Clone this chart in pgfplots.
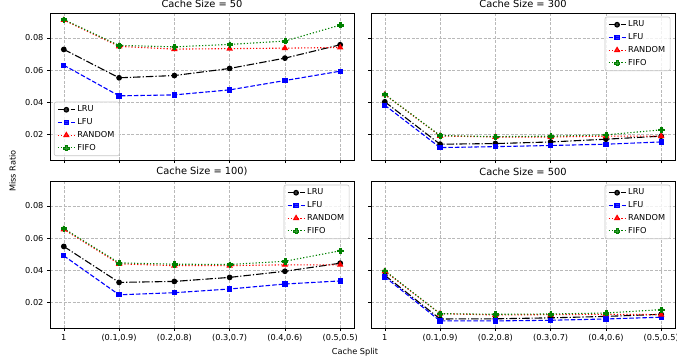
\documentclass[border=0pt]{standalone}
\usepackage{pgfplots}
\pgfplotsset{compat=1.18}
\usepackage{pgfplotstable}
\usepackage{fontspec}
\setmainfont{DejaVu Sans}
\newcommand{\tk}{\fontsize{8.2}{9.8}\selectfont}
\newcommand{\ttl}{\fontsize{9.84}{11.8}\selectfont}
\definecolor{mplgreen}{rgb}{0,0.5,0}

\pgfdeclareplotmark{Pfill}{%
  \pgfpathmoveto{\pgfpoint{-0.333\pgfplotmarksize}{\pgfplotmarksize}}%
  \pgfpathlineto{\pgfpoint{0.333\pgfplotmarksize}{\pgfplotmarksize}}%
  \pgfpathlineto{\pgfpoint{0.333\pgfplotmarksize}{0.333\pgfplotmarksize}}%
  \pgfpathlineto{\pgfpoint{\pgfplotmarksize}{0.333\pgfplotmarksize}}%
  \pgfpathlineto{\pgfpoint{\pgfplotmarksize}{-0.333\pgfplotmarksize}}%
  \pgfpathlineto{\pgfpoint{0.333\pgfplotmarksize}{-0.333\pgfplotmarksize}}%
  \pgfpathlineto{\pgfpoint{0.333\pgfplotmarksize}{-\pgfplotmarksize}}%
  \pgfpathlineto{\pgfpoint{-0.333\pgfplotmarksize}{-\pgfplotmarksize}}%
  \pgfpathlineto{\pgfpoint{-0.333\pgfplotmarksize}{-0.333\pgfplotmarksize}}%
  \pgfpathlineto{\pgfpoint{-\pgfplotmarksize}{-0.333\pgfplotmarksize}}%
  \pgfpathlineto{\pgfpoint{-\pgfplotmarksize}{0.333\pgfplotmarksize}}%
  \pgfpathlineto{\pgfpoint{-0.333\pgfplotmarksize}{0.333\pgfplotmarksize}}%
  \pgfpathclose
  \pgfusepathqfillstroke
}

\pgfplotstableread{
x LRU LFU RAND FIFO
0 0.0728 0.0630 0.0910 0.0913
1 0.0552 0.0440 0.0747 0.0753
2 0.0566 0.0446 0.0730 0.0744
3 0.0610 0.0477 0.0733 0.0759
4 0.0674 0.0535 0.0736 0.0780
5 0.0757 0.0593 0.0740 0.0879
}\tfifty
\pgfplotstableread{
x LRU LFU RAND FIFO
0 0.0403 0.0382 0.0448 0.0449
1 0.0140 0.0119 0.0191 0.0194
2 0.0144 0.0125 0.0185 0.0187
3 0.0154 0.0132 0.0185 0.0190
4 0.0171 0.0140 0.0190 0.0198
5 0.0190 0.0154 0.0190 0.0229
}\tthree
\pgfplotstableread{
x LRU LFU RAND FIFO
0 0.0548 0.0490 0.0654 0.0659
1 0.0325 0.0248 0.0440 0.0446
2 0.0331 0.0261 0.0429 0.0438
3 0.0356 0.0284 0.0429 0.0436
4 0.0394 0.0315 0.0434 0.0456
5 0.0444 0.0334 0.0434 0.0521
}\thundred
\pgfplotstableread{
x LRU LFU RAND FIFO
0 0.0369 0.0359 0.0394 0.0398
1 0.0098 0.0086 0.0131 0.0131
2 0.0099 0.0086 0.0123 0.0127
3 0.0105 0.0090 0.0125 0.0129
4 0.0114 0.0098 0.0127 0.0135
5 0.0127 0.0109 0.0125 0.0156
}\tfive

\pgfplotsset{
  panel/.style={
    scale only axis, width=304pt, height=147pt, anchor=south west,
    xmin=-0.25, xmax=5.25, ymin=0.0042, ymax=0.0954,
    xtick={0,1,2,3,4,5},
    ytick={0.02,0.04,0.06,0.08},
    scaled y ticks=false,
    xtick pos=lower, ytick pos=left, tick align=outside,
    major tick length=3pt,
    tick style={black, line width=0.6pt},
    axis line style={black, line width=0.8pt},
    grid=major,
    major grid style={gray!55, dash pattern=on 3pt off 1.5pt, line width=0.6pt},
    tick label style={font=\tk},
    /pgf/number format/assume math mode=true,
    title style={font=\ttl, yshift=-4.5pt},
    legend style={font=\tk, draw=black!22, line width=0.6pt, rounded corners=2pt, fill=white, fill opacity=0.8, text opacity=1, draw opacity=1, inner xsep=3pt, inner ysep=2pt, row sep=1.2pt},
    legend cell align=left,
    every axis plot/.append style={line width=1.1pt},
  },
  leftcol/.style={yticklabels={0.02,0.04,0.06,0.08}},
  rightcol/.style={yticklabels={}},
  toprow/.style={xticklabels={}},
  botrow/.style={xticklabels={1,{(0.1,0.9)},{(0.2,0.8)},{(0.3,0.7)},{(0.4,0.6)},{(0.5,0.5)}}},
  sLRU/.style={black, dash pattern=on 7.5pt off 2pt on 1.2pt off 2pt, mark=*, mark size=2.3pt, mark options={solid}},
  sLFU/.style={blue, dash pattern=on 4.5pt off 2pt, mark=square*, mark size=2.1pt, mark options={solid}},
  sRAND/.style={red, dash pattern=on 1.2pt off 2pt, mark=triangle*, mark size=2.7pt, mark options={solid}},
  sFIFO/.style={mplgreen, dash pattern=on 1.2pt off 2pt, mark=Pfill, mark size=2.6pt, mark options={solid, line width=0.5pt}},
  ne/.style={legend style={at={(0.985,0.975)}, anchor=north east}},
  sw/.style={legend style={at={(0.013,0.027)}, anchor=south west}},
}

\newcommand{\fourplots}[1]{%
  \addplot[sLRU] table[x=x,y=LRU] {#1}; \addlegendentry{LRU}
  \addplot[sLFU] table[x=x,y=LFU] {#1}; \addlegendentry{LFU}
  \addplot[sRAND] table[x=x,y=RAND] {#1}; \addlegendentry{RANDOM}
  \addplot[sFIFO] table[x=x,y=FIFO] {#1}; \addlegendentry{FIFO}
}

\begin{document}
\begin{tikzpicture}
\useasboundingbox (0,0) rectangle (677pt,360pt);
\begin{axis}[panel, leftcol, toprow, sw, at={(50pt,200pt)}, title={Cache Size = 50}]
\fourplots{\tfifty}
\end{axis}
\begin{axis}[panel, rightcol, toprow, ne, at={(371pt,200pt)}, title={Cache Size = 300}]
\fourplots{\tthree}
\end{axis}
\begin{axis}[panel, leftcol, botrow, ne, at={(50pt,32pt)}, title={Cache Size = 100)}]
\fourplots{\thundred}
\end{axis}
\begin{axis}[panel, rightcol, botrow, ne, at={(371pt,32pt)}, title={Cache Size = 500}]
\fourplots{\tfive}
\end{axis}
\node[font=\tk, rotate=90] at (12.5pt,189pt) {Miss Ratio};
\node[font=\tk] at (355pt,8pt) {Cache Split};
\end{tikzpicture}
\end{document}
